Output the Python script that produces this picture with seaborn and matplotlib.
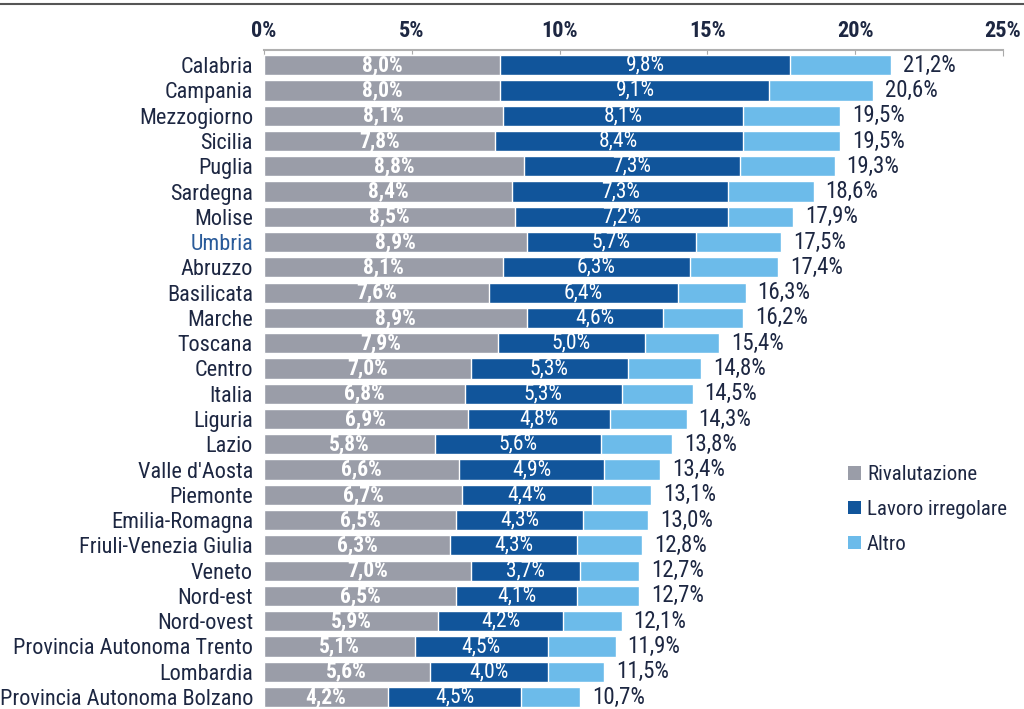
import pandas as pd
import seaborn as sns
import matplotlib.pyplot as plt
from matplotlib.patches import Patch
from matplotlib.lines import Line2D

regions = ['Calabria', 'Campania', 'Mezzogiorno', 'Sicilia', 'Puglia', 'Sardegna',
           'Molise', 'Umbria', 'Abruzzo', 'Basilicata', 'Marche', 'Toscana',
           'Centro', 'Italia', 'Liguria', 'Lazio', "Valle d'Aosta", 'Piemonte',
           'Emilia-Romagna', 'Friuli-Venezia Giulia', 'Veneto', 'Nord-est',
           'Nord-ovest', 'Provincia Autonoma Trento', 'Lombardia',
           'Provincia Autonoma Bolzano']
rivalutazione = [8.0, 8.0, 8.1, 7.8, 8.8, 8.4, 8.5, 8.9, 8.1, 7.6, 8.9, 7.9,
                 7.0, 6.8, 6.9, 5.8, 6.6, 6.7, 6.5, 6.3, 7.0, 6.5, 5.9, 5.1, 5.6, 4.2]
lavoro = [9.8, 9.1, 8.1, 8.4, 7.3, 7.3, 7.2, 5.7, 6.3, 6.4, 4.6, 5.0,
          5.3, 5.3, 4.8, 5.6, 4.9, 4.4, 4.3, 4.3, 3.7, 4.1, 4.2, 4.5, 4.0, 4.5]
totale = [21.2, 20.6, 19.5, 19.5, 19.3, 18.6, 17.9, 17.5, 17.4, 16.3, 16.2, 15.4,
          14.8, 14.5, 14.3, 13.8, 13.4, 13.1, 13.0, 12.8, 12.7, 12.7, 12.1, 11.9, 11.5, 10.7]
series = ['Rivalutazione', 'Lavoro irregolare', 'Altro']
ticks = [0, 5, 10, 15, 20, 25]

c_gray = '#9a9da8'
c_dark = '#11559b'
c_light = '#6cbbea'
c_text = '#1d2742'

df = pd.DataFrame({'regione': regions, 'riv': rivalutazione, 'lav': lavoro, 'tot': totale})
df['cum2'] = df['riv'] + df['lav']

sns.set_style('white')
plt.rcParams['font.family'] = ['Roboto Condensed', 'Liberation Sans', 'DejaVu Sans']

fig = plt.figure(figsize=(10.24, 7.09), dpi=100)
ax = fig.add_axes([0.2578, -0.0045, 0.7217, 0.934])

sns.barplot(data=df, y='regione', x='tot', color=c_light, orient='h', width=0.8,
            saturation=1, ax=ax)
sns.barplot(data=df, y='regione', x='cum2', color=c_dark, orient='h', width=0.8,
            saturation=1, ax=ax)
sns.barplot(data=df, y='regione', x='riv', color=c_gray, orient='h', width=0.8,
            saturation=1, ax=ax)


def fmt(v):
    return f'{v:.1f}%'.replace('.', ',')


for i, r in df.iterrows():
    ax.text(r['riv'] / 2, i, fmt(r['riv']), ha='center', va='center',
            color='white', fontsize=15.5, fontweight='bold')
    ax.text(r['riv'] + r['lav'] / 2, i, fmt(r['lav']), ha='center', va='center',
            color='white', fontsize=15.5)
    ax.text(r['tot'] + 0.4, i, fmt(r['tot']), ha='left', va='center',
            color=c_text, fontsize=16.5)

ax.set_xlim(0, 25)
ax.set_ylim(25.6, -0.6)
ax.set_xticks(ticks)
ax.set_xticklabels([f'{t}%' for t in ticks], fontsize=16, fontweight='bold', color=c_text)
ax.xaxis.tick_top()
ax.tick_params(axis='x', length=4, color='#aaaaaa', pad=6, direction='in')
ax.tick_params(axis='y', length=0, pad=8)
ax.set_xlabel('')
ax.set_ylabel('')
for lab in ax.get_yticklabels():
    lab.set_fontsize(16)
    lab.set_color('#2a5b9a' if lab.get_text() == 'Umbria' else c_text)

for s in ['right', 'bottom', 'left']:
    ax.spines[s].set_visible(False)
ax.spines['top'].set_color('#b0b0b0')
ax.spines['top'].set_linewidth(1.5)

# thin scan border at the top of the page
fig.add_artist(Line2D([0, 1], [0.995, 0.995], color='#555555', lw=1.5))

handles = [Patch(facecolor=c, edgecolor='none') for c in [c_gray, c_dark, c_light]]
fig.legend(handles, series, loc='upper left', bbox_to_anchor=(0.81, 0.37),
           frameon=False, fontsize=15, handlelength=0.6, handleheight=0.6,
           handletextpad=0.3, labelspacing=0.75, labelcolor=c_text)

fig.savefig('out.png', dpi=100)
